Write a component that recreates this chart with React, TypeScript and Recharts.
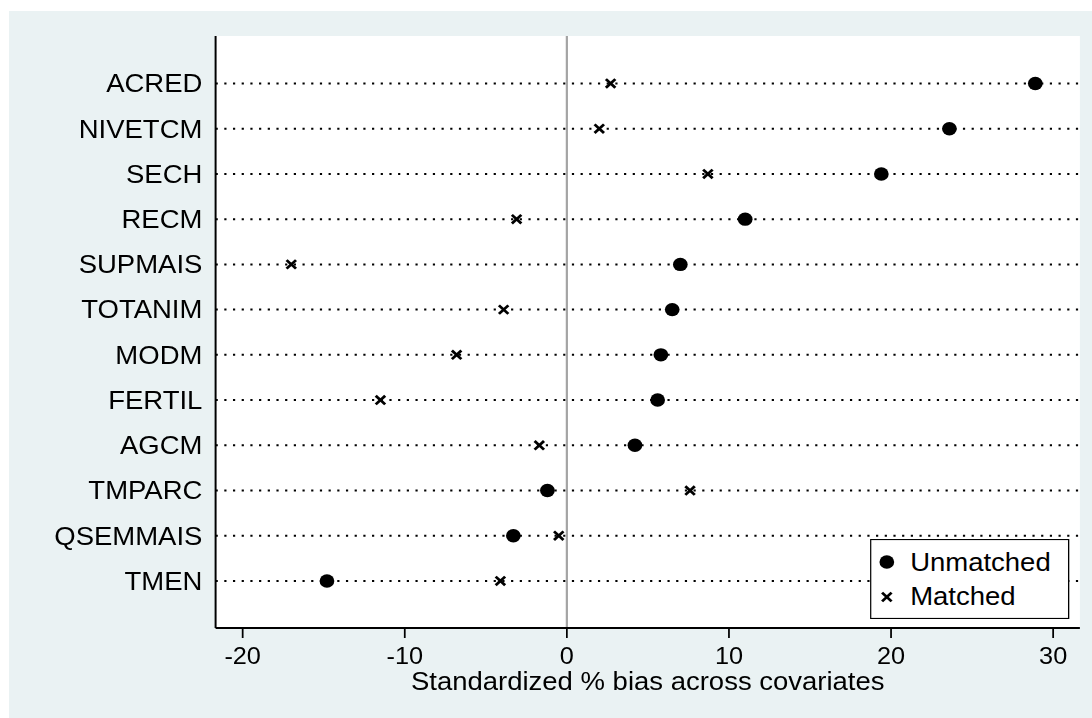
import {
  CartesianGrid,
  Label,
  Legend,
  ReferenceLine,
  Scatter,
  ScatterChart,
  XAxis,
  YAxis,
} from "recharts";

const covariates = [
  "ACRED",
  "NIVETCM",
  "SECH",
  "RECM",
  "SUPMAIS",
  "TOTANIM",
  "MODM",
  "FERTIL",
  "AGCM",
  "TMPARC",
  "QSEMMAIS",
  "TMEN",
];
const unmatched = [28.9, 23.6, 19.4, 11.0, 7.0, 6.5, 5.8, 5.6, 4.2, -1.2, -3.3, -14.8];
const matched = [2.7, 2.0, 8.7, -3.1, -17.0, -3.9, -6.8, -11.5, -1.7, 7.6, -0.5, -4.1];
const xTicks = [-20, -10, 0, 10, 20, 30];

const FONT = '"Liberation Sans", Arial, Helvetica, sans-serif';
const INK = "#000";
const BG = "#EAF2F3";

// The whole graph is drawn narrow and stretched horizontally, Stata-export style.
const STRETCH = 1.1;
const PAGE_W = 1092;
const PAGE_H = 718;
const W = PAGE_W / STRETCH;

// first covariate goes on the top row
const rowOf = (i: number) => covariates.length - i;
const rowTicks = covariates.map((_, i) => rowOf(i));
const labelOfRow = (r: number) => covariates[covariates.length - r] ?? "";

const unmatchedPts = unmatched.map((v, i) => ({ bias: v, row: rowOf(i) }));
const matchedPts = matched.map((v, i) => ({ bias: v, row: rowOf(i) }));

function Dot(props: any) {
  const { cx, cy } = props;
  return <circle cx={cx} cy={cy} r={6.7} fill={INK} />;
}

function Cross(props: any) {
  const { cx, cy } = props;
  const hx = 4.3;
  const hy = 4.3;
  return (
    <g stroke={INK} strokeWidth={2.6}>
      <line x1={cx - hx} y1={cy - hy} x2={cx + hx} y2={cy + hy} />
      <line x1={cx - hx} y1={cy + hy} x2={cx + hx} y2={cy - hy} />
    </g>
  );
}

function LegendBox() {
  return (
    <svg width={181} height={80} style={{ display: "block" }}>
      <rect x={0.5} y={0.5} width={180} height={79} fill="#fff" stroke={INK} strokeWidth={1.2} />
      <Dot cx={15.2} cy={23} />
      <text x={36.4} y={31.7} fontSize={25} fill={INK} fontFamily={FONT}>
        Unmatched
      </text>
      <Cross cx={15.2} cy={58} />
      <text x={36.4} y={66} fontSize={25} fill={INK} fontFamily={FONT}>
        Matched
      </text>
    </svg>
  );
}

function AxisTitle(props: any) {
  const vb = props.viewBox ?? {};
  return (
    <text
      x={vb.x + vb.width / 2}
      y={vb.y + 62}
      textAnchor="middle"
      fontSize={25}
      fill={INK}
      fontFamily={FONT}
    >
      Standardized % bias across covariates
    </text>
  );
}

export default function App() {
  return (
    <div
      style={{
        position: "relative",
        width: PAGE_W,
        height: PAGE_H,
        overflow: "hidden",
        fontFamily: FONT,
      }}
    >
      <style>{"body{margin:0;overflow:hidden}"}</style>
      <div
        style={{ position: "absolute", left: 9, top: 11, right: 0, bottom: 0, background: BG }}
      />
      <div
        style={{
          position: "absolute",
          left: 0,
          top: 0,
          transform: `scaleX(${STRETCH})`,
          transformOrigin: "0 0",
        }}
      >
        <ScatterChart
          width={W}
          height={PAGE_H}
          margin={{ top: 36, right: 11, bottom: 0, left: 0 }}
        >
          {/* white plot region only; the row guides are drawn below */}
          <CartesianGrid horizontal={false} vertical={false} fill="#fff" fillOpacity={1} />
          {rowTicks.map((r) => (
            <ReferenceLine
              key={r}
              y={r}
              stroke={INK}
              strokeWidth={2}
              strokeDasharray="2 5.9"
            />
          ))}
          <ReferenceLine x={0} stroke="#A4A4A4" strokeWidth={2} />
          <XAxis
            type="number"
            dataKey="bias"
            domain={[-21.67, 31.65]}
            ticks={xTicks}
            allowDataOverflow
            height={90}
            stroke={INK}
            axisLine={{ stroke: INK, strokeWidth: 2 }}
            tickLine={{ stroke: INK, strokeWidth: 1.6 }}
            tickSize={10}
            tickMargin={10}
            tick={{ fill: INK, fontSize: 23, fontFamily: FONT }}
          >
            <Label content={<AxisTitle />} />
          </XAxis>
          <YAxis
            type="number"
            dataKey="row"
            domain={[-0.04, 13.05]}
            ticks={rowTicks}
            allowDataOverflow
            width={196}
            axisLine={{ stroke: INK, strokeWidth: 1.8 }}
            tickLine={false}
            tickSize={0}
            tickMargin={12}
            tickFormatter={labelOfRow}
            tick={{ fill: INK, fontSize: 25, fontFamily: FONT }}
          />
          <Scatter
            name="Unmatched"
            data={unmatchedPts}
            shape={<Dot />}
            isAnimationActive={false}
          />
          <Scatter
            name="Matched"
            data={matchedPts}
            shape={<Cross />}
            isAnimationActive={false}
          />
          <Legend
            layout="horizontal"
            align="center"
            verticalAlign="middle"
            content={() => <LegendBox />}
            wrapperStyle={{ left: 791, top: 539, width: 181, height: 80 }}
          />
        </ScatterChart>
      </div>
    </div>
  );
}
